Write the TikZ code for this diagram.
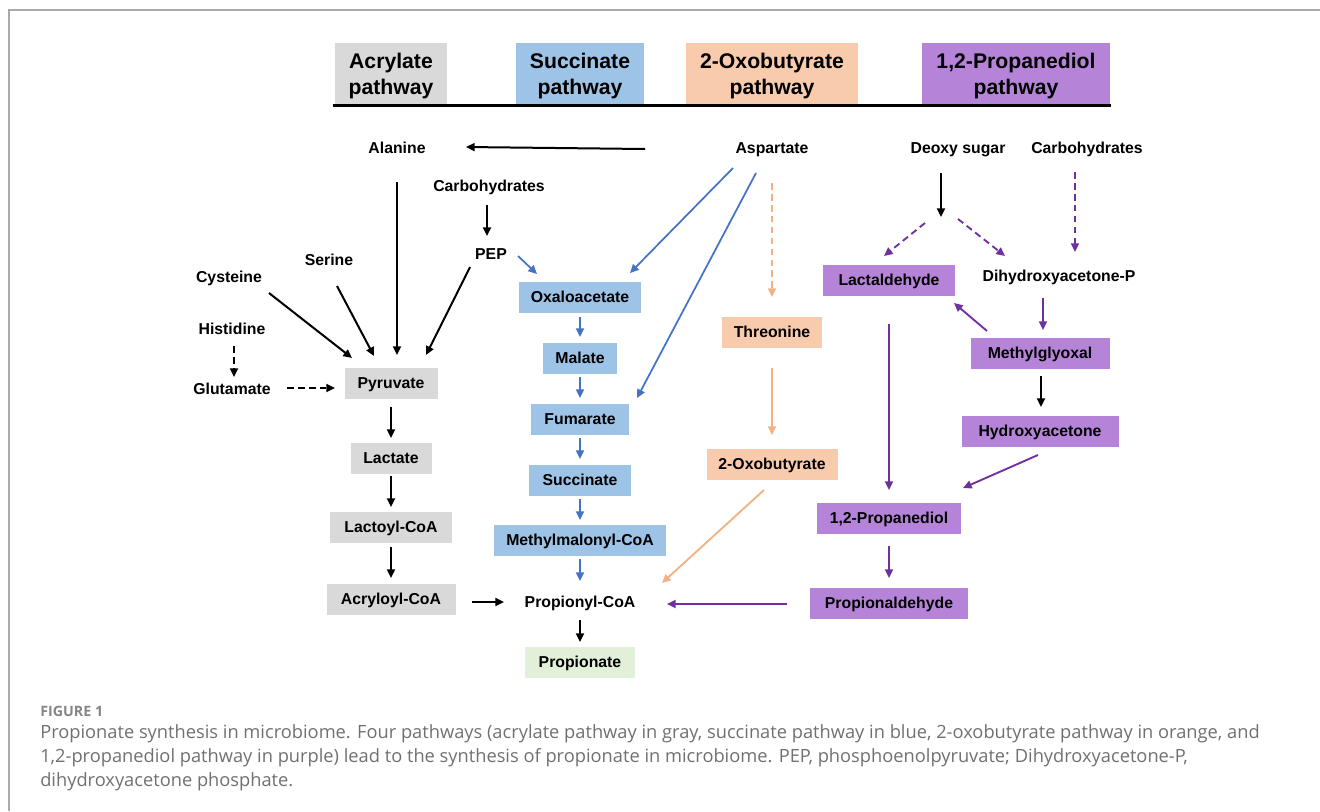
\documentclass[tikz,border=0pt]{standalone}
\usepackage{fontspec}
\setmainfont{Liberation Sans}
\newfontfamily\capfont{Open Sans}
\usetikzlibrary{arrows.meta,calc}
\definecolor{gbox}{HTML}{D9D9D9}
\definecolor{bbox}{HTML}{9DC3E6}
\definecolor{obox}{HTML}{F8CBAD}
\definecolor{pbox}{HTML}{B584D9}
\definecolor{grbox}{HTML}{E2F0D9}
\definecolor{barr}{HTML}{4472C4}
\definecolor{parr}{HTML}{7030A0}
\definecolor{oarr}{HTML}{F4B183}
\definecolor{framec}{HTML}{AAAAAA}
\definecolor{capc}{HTML}{707070}
\definecolor{figc}{HTML}{858585}
\begin{document}
\begin{tikzpicture}[x=0.75pt,y=-0.75pt,
  lbl/.style={font=\fontsize{11.85}{14}\selectfont\bfseries, inner sep=0pt, text height=9pt, text depth=0.5pt},
  bx/.style={lbl, fill=#1, minimum height=31*0.75pt},
  mw/.style={minimum width=#1*0.75pt},
  hdr/.style={fill=#1, inner sep=0pt, minimum height=61*0.75pt},
  hdrtxt/.style={inner sep=0pt, align=center, font=\fontsize{15.9}{19.5}\selectfont\bfseries},
  arr/.style={line width=1.5pt, -{Triangle[length=6.5pt,width=6pt]}},
  barw/.style={arr, color=barr, line width=1.3pt},
  parw/.style={arr, color=parr, line width=1.4pt},
  oarw/.style={arr, color=oarr, line width=1.4pt},
  dsh/.style={dash pattern=on 5pt off 3.2pt},
  capt/.style={font=\capfont\fontsize{13.7}{16}\selectfont, text=capc, anchor=west, inner sep=0pt}
]
\useasboundingbox (0,0) rectangle (1320,811);
\draw[framec, line width=1.1pt] (9,811) -- (9,10) -- (1320,10);

% headers
\node[hdr=gbox, minimum width=112*0.75pt] (hA) at (391,73.5) {};
\node[hdr=bbox, minimum width=128*0.75pt] (hB) at (580,73.5) {};
\node[hdr=obox, minimum width=172*0.75pt] (hC) at (772,73.5) {};
\node[hdr=pbox, minimum width=188*0.75pt] (hD) at (1016,73.5) {};
\node[hdrtxt] (hAt) at (391,76) {Acrylate\\pathway};
\node[hdrtxt] (hBt) at (580,76) {Succinate\\pathway};
\node[hdrtxt] (hCt) at (772,76) {2-Oxobutyrate\\pathway};
\node[hdrtxt] (hDt) at (1016,76) {1,2-Propanediol\\pathway};
\draw[line width=2.3pt] ($(hA.south west)+(-2,1)$) -- ($(hD.south east)+(1,1)$);

% plain labels
\node[lbl] (ala) at (397,148) {Alanine};
\node[lbl] (asp) at (772,148) {Aspartate};
\node[lbl] (deo) at (958,148) {Deoxy sugar};
\node[lbl] (carbR) at (1087,148) {Carbohydrates};
\node[lbl] (carbL) at (489,186) {Carbohydrates};
\node[lbl] (pep) at (491,254) {PEP};
\node[lbl] (ser) at (329,260) {Serine};
\node[lbl] (cys) at (229,277) {Cysteine};
\node[lbl] (his) at (232,329) {Histidine};
\node[lbl] (glu) at (232,389) {Glutamate};
\node[lbl] (pcoa) at (580,602) {Propionyl-CoA};
\node[lbl] (dhap) at (1059,276) {Dihydroxyacetone-P};
\coordinate (br) at (941,217);

% boxes
\node[bx=gbox, mw=93] (pyr) at (391,383) {Pyruvate};
\node[bx=gbox, mw=81] (lac) at (391,458) {Lactate};
\node[bx=gbox, mw=122] (lacc) at (391,527) {Lactoyl-CoA};
\node[bx=gbox, mw=129] (acr) at (391,599) {Acryloyl-CoA};
\node[bx=bbox, mw=122] (oxa) at (580,297) {Oxaloacetate};
\node[bx=bbox, mw=74] (mal) at (580,358) {Malate};
\node[bx=bbox, mw=98] (fum) at (580,419) {Fumarate};
\node[bx=bbox, mw=102] (suc) at (580,480) {Succinate};
\node[bx=bbox, mw=172] (mmc) at (580,540) {Methylmalonyl-CoA};
\node[bx=grbox, mw=110] (prop) at (580,662) {Propionate};
\node[bx=obox, mw=100] (thr) at (772,332) {Threonine};
\node[bx=obox, mw=131] (oxb) at (772,464) {2-Oxobutyrate};
\node[bx=pbox, mw=132] (lald) at (889,280) {Lactaldehyde};
\node[bx=pbox, mw=139] (mgo) at (1040,353) {Methylglyoxal};
\node[bx=pbox, mw=157] (hya) at (1040,431) {Hydroxyacetone};
\node[bx=pbox, mw=144] (pdo) at (889,518) {1,2-Propanediol};
\node[bx=pbox, mw=158] (pald) at (889,603) {Propionaldehyde};

% black connectors
\draw[arr] ($(asp)+(-127,1)$) -- ($(ala)+(69,-1)$);
\draw[arr] ($(ala)+(0,34)$) -- ($(pyr)+(6,-28)$);
\draw[arr] ($(carbL)+(-2,19)$) -- ($(pep)+(-4,-18)$);
\draw[arr] ($(pep)+(-21,13)$) -- ($(pyr)+(35,-28)$);
\draw[arr] ($(ser)+(8,26)$) -- ($(pyr)+(-17,-27)$);
\draw[arr] ($(cys)+(40,16)$) -- ($(pyr)+(-39,-25)$);
\draw[arr,dsh] ($(his)+(2,17)$) -- ($(glu)+(2,-12)$);
\draw[arr,dsh] ($(glu)+(55,-1)$) -- ($(pyr)+(-56,5)$);
\draw[arr] ($(pyr)+(0,24)$) -- ($(lac)+(0,-20)$);
\draw[arr] ($(lac)+(0,18)$) -- ($(lacc)+(0,-20)$);
\draw[arr] ($(lacc)+(0,20)$) -- ($(acr)+(0,-21)$);
\draw[arr] ($(acr)+(81,3)$) -- ($(pcoa)+(-76,0)$);
\draw[arr] ($(pcoa)+(0,18)$) -- ($(prop)+(0,-20)$);
\draw[arr] ($(deo)+(-17,25)$) -- (br);
\draw[arr] ($(mgo)+(1,23)$) -- ($(hya)+(1,-24)$);

% blue connectors
\draw[barw] ($(pep)+(27,2)$) -- ($(oxa)+(-43,-23)$);
\draw[barw] ($(asp)+(-39,20)$) -- ($(oxa)+(50,-24)$);
\draw[barw] ($(asp)+(-16,25)$) -- ($(fum)+(57,-21)$);
\draw[barw] ($(oxa)+(0,20)$) -- ($(mal)+(0,-21)$);
\draw[barw] ($(mal)+(0,19)$) -- ($(fum)+(0,-21)$);
\draw[barw] ($(fum)+(0,19)$) -- ($(suc)+(0,-21)$);
\draw[barw] ($(suc)+(0,19)$) -- ($(mmc)+(0,-20)$);
\draw[barw] ($(mmc)+(0,19)$) -- ($(pcoa)+(0,-21)$);

% orange connectors
\draw[oarw,dsh] ($(asp)+(0,35)$) -- ($(thr)+(0,-35)$);
\draw[oarw] ($(thr)+(0,36)$) -- ($(oxb)+(0,-29)$);
\draw[oarw] ($(oxb)+(-8,26)$) -- ($(pcoa)+(82,-19)$);

% purple connectors
\draw[parw,dsh] ($(br)+(-16,6)$) -- ($(lald)+(-5,-24)$);
\draw[parw,dsh] ($(br)+(17,2)$) -- ($(dhap)+(-54,-20)$);
\draw[parw,dsh] ($(carbR)+(-12,24)$) -- ($(dhap)+(16,-24)$);
\draw[parw] ($(dhap)+(-16,22)$) -- ($(mgo)+(3,-23)$);
\draw[parw] ($(mgo)+(-53,-22)$) -- ($(lald)+(65,23)$);
\draw[parw] ($(lald)+(0,44)$) -- ($(pdo)+(0,-28)$);
\draw[parw] ($(hya)+(-2,24)$) -- ($(pdo)+(74,-30)$);
\draw[parw] ($(pdo)+(0,28)$) -- ($(pald)+(0,-25)$);
\draw[parw] ($(pald)+(-102,1)$) -- ($(pcoa)+(87,2)$);

% caption
\node[capt, text=figc, font=\capfont\bfseries\fontsize{10.7}{12}\selectfont] (fig) at (40,711) {FIGURE 1};
\node[capt] (c1) at (40,734) {Propionate synthesis in microbiome. Four pathways (acrylate pathway in gray, succinate pathway in blue, 2-oxobutyrate pathway in orange, and};
\node[capt] (c2) at (40,758) {1,2-propanediol pathway in purple) lead to the synthesis of propionate in microbiome. PEP, phosphoenolpyruvate; Dihydroxyacetone-P,};
\node[capt] (c3) at (40,782) {dihydroxyacetone phosphate.};
\end{tikzpicture}
\end{document}
